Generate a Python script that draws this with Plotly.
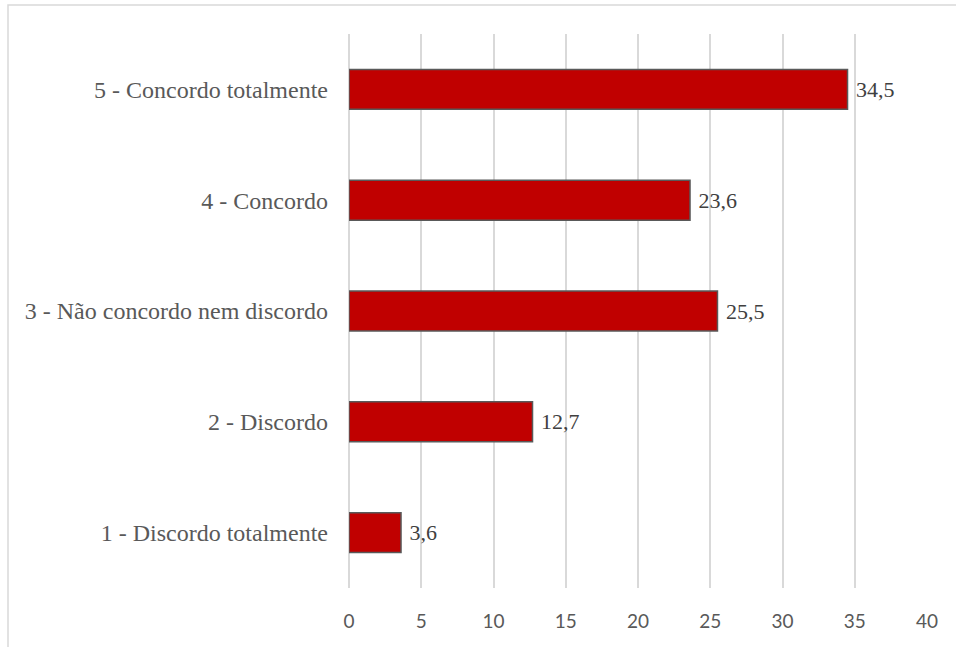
import plotly.graph_objects as go

# Response categories (bottom to top) and their percentages
categories = [
    "1 - Discordo totalmente",
    "2 - Discordo",
    "3 - Não concordo nem discordo",
    "4 - Concordo",
    "5 - Concordo totalmente",
]
values = [3.6, 12.7, 25.5, 23.6, 34.5]
tick_values = [0, 5, 10, 15, 20, 25, 30, 35, 40]

# comma decimal labels, with a small gap before the number
labels = ["\u00a0" + f"{v:.1f}".replace(".", ",") for v in values]

serif = "'Liberation Serif', 'Times New Roman', serif"

fig = go.Figure(
    go.Bar(
        y=categories,
        x=values,
        orientation="h",
        width=0.36,
        marker=dict(color="#C00000", line=dict(color="#595959", width=1.5)),
        text=labels,
        textposition="outside",
        textfont=dict(family=serif, size=22, color="#404040"),
        cliponaxis=False,
    )
)

W, H = 956, 647
ml, mr, mt, mb = 349, 29, 34, 59
pw, ph = W - ml - mr, H - mt - mb

# outer frame of the chart area
x0 = (8 - ml) / pw
y1 = 1 + (mt - 5) / ph
fig.add_shape(
    type="rect", xref="paper", yref="paper",
    x0=x0, x1=1.5, y0=-0.5, y1=y1,
    line=dict(color="#D9D9D9", width=1.5), fillcolor="rgba(0,0,0,0)", layer="below",
)

fig.update_layout(
    width=W, height=H,
    margin=dict(l=ml, r=mr, t=mt, b=mb, pad=0),
    paper_bgcolor="white", plot_bgcolor="white",
    showlegend=False,
    xaxis=dict(
        range=[0, 40], tickvals=tick_values,
        showgrid=True, gridcolor="#D9D9D9", gridwidth=1.5,
        zeroline=True, zerolinecolor="#D9D9D9", zerolinewidth=1.5,
        showline=False, ticks="",
        tickfont=dict(family="Lato, 'Open Sans', sans-serif", size=19, color="#595959"),
        ticklabelstandoff=20,
    ),
    yaxis=dict(
        categoryorder="array", categoryarray=categories,
        showgrid=False, zeroline=False, showline=False, ticks="",
        tickfont=dict(family=serif, size=24, color="#595959"),
        ticklabelstandoff=20,
    ),
)

fig.write_html("out.html")
